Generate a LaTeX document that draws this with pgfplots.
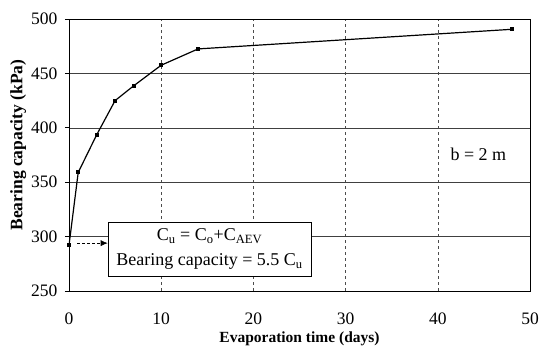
\documentclass[border=0pt]{standalone}
\usepackage{pgfplots}
\pgfplotsset{compat=1.18}
\usepackage{fontspec}
\setmainfont{Liberation Serif}
\usetikzlibrary{arrows.meta}
\begin{document}
\begin{tikzpicture}
\useasboundingbox (-69pt,-56pt) rectangle (472pt,291pt);
\begin{axis}[
  at={(0,0)}, anchor=south west,
  scale only axis,
  width=461pt, height=272pt,
  xmin=0, xmax=50, ymin=250, ymax=500,
  xtick={0,10,...,50}, ytick={250,300,...,500},
  /pgf/number format/assume math mode=true,
  ticklabel style={font=\fontsize{17.5}{19}\selectfont},
  xlabel={Evaporation time (days)},
  ylabel={Bearing capacity (kPa)},
  xlabel style={font=\fontsize{15.5}{17}\selectfont\bfseries, yshift=-1pt},
  ylabel style={font=\fontsize{17.5}{19}\selectfont\bfseries, yshift=-2pt, xshift=10pt},
  axis line style={black, line width=0.6pt},
  ymajorgrids, xmajorgrids,
  y grid style={black!75, line width=0.5pt},
  x grid style={black!70, dashed, line width=0.5pt},
  ytick style={black, line width=0.6pt},
  tick align=outside,
  major tick length=4pt,
  xtick style={draw=none},
  xticklabel style={yshift=-14pt},
  yticklabel style={xshift=-4pt},
  tick pos=left,
]
\addplot[black, line width=1.2pt, mark=square*, mark size=1.4pt,
  mark options={solid, fill=black}] coordinates {
  (0,292) (1,359) (3,393.5) (5,425) (7,438.5) (10,457.5) (14,472.5) (48,490.5)
};
\draw[black, densely dashed, line width=0.6pt, -{Latex[length=7pt,width=6pt]}] (axis cs:0.9,294) -- (axis cs:4.2,294);
\node[draw=black, fill=white, line width=0.7pt, align=center,
  font=\fontsize{18}{25}\selectfont, anchor=north west,
  minimum width=203pt, minimum height=54pt, inner sep=2pt]
  at (axis cs:4.2,313.3)
  {C\textsubscript{u} = C\textsubscript{o}+C\textsubscript{AEV}\\Bearing capacity = 5.5 C\textsubscript{u}};
\node[fill=white, font=\fontsize{18}{20}\selectfont, inner sep=2pt] at (axis cs:44.4,375.5) {b = 2 m};
\end{axis}
\end{tikzpicture}
\end{document}
